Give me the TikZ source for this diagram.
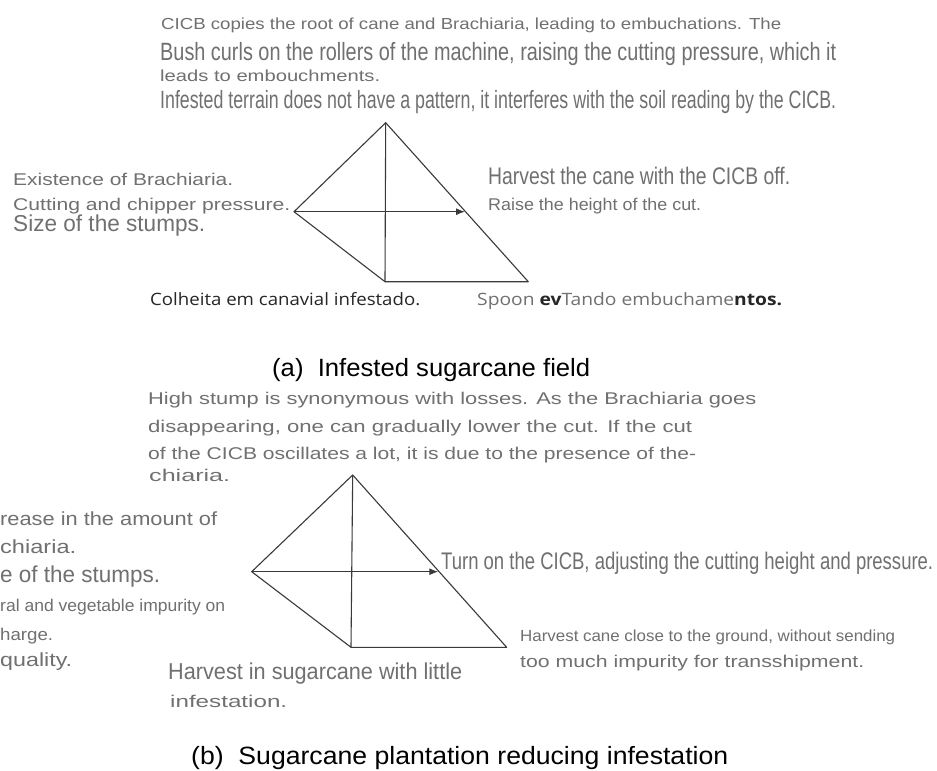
\documentclass[tikz,border=0pt]{standalone}
\usepackage{fontspec}
\usepackage{graphicx}
\setmainfont{Liberation Sans}
\newfontfamily\colfont{Open Sans}
\usetikzlibrary{arrows.meta}
\definecolor{txtgray}{HTML}{707070}
\definecolor{rimgray}{HTML}{3A3A3A}
\definecolor{darktxt}{HTML}{262626}
\newcommand{\fitw}[2]{\resizebox{#1pt}{\height}{#2}}
\tikzset{
  lbl/.style={anchor=base west, inner sep=0pt, text=txtgray},
  fsz/.style={font=\fontsize{#1}{#1}\selectfont},
  captxt/.style={anchor=base west, inner sep=0pt, text=black, font=\fontsize{25}{25}\selectfont},
  rim/.style={draw=rimgray, line width=1.1pt, line join=round},
}
\begin{document}
\begin{tikzpicture}[x=1pt,y=-1pt]
\useasboundingbox[fill=white] (0,0) rectangle (937,771);
\coordinate (atop) at (385.7,122.7);
\coordinate (aleft) at (294,211.7);
\coordinate (abl) at (385,281.7);
\coordinate (abr) at (528.3,281.7);
\coordinate (atip) at (465,211.7);
\draw[rim] (atop) -- (aleft) -- (abl) -- (abr) -- cycle;
\draw[rim] (atop) -- (abl);
\draw[rim,-{Latex[length=9pt,width=7pt]}] (aleft) -- (atip);
\node[lbl,fsz=16] (acopy) at (161,29) {\fitw{620}{CICB copies the root of cane and Brachiaria, leading to embuchations. The}};
\node[lbl,fsz=25] (abush) at (160,60) {\fitw{676}{Bush curls on the rollers of the machine, raising the cutting pressure, which it}};
\node[lbl,fsz=16] (aleads) at (160,81) {\fitw{220}{leads to embouchments.}};
\node[lbl,fsz=25] (aterrain) at (160,108) {\fitw{676}{Infested terrain does not have a pattern, it interferes with the soil reading by the CICB.}};
\node[lbl,fsz=17] (aexist) at (13,185) {\fitw{220}{Existence of Brachiaria.}};
\node[lbl,fsz=17] (acutting) at (13,210) {\fitw{277}{Cutting and chipper pressure.}};
\node[lbl,fsz=23] (asize) at (13,231) {\fitw{192}{Size of the stumps.}};
\node[lbl,fsz=24] (aoff) at (488,184) {\fitw{302}{Harvest the cane with the CICB off.}};
\node[lbl,fsz=17] (araise) at (488,210) {\fitw{213}{Raise the height of the cut.}};
\node[lbl,text=darktxt,font=\colfont\fontsize{17}{17}\selectfont] (acolheita) at (150,305) {\fitw{270}{Colheita em canavial infestado.}};
\node[lbl,font=\colfont\fontsize{17}{17}\selectfont] (aspoon) at (477,305) {\fitw{305}{Spoon \textcolor{darktxt}{\bfseries ev}Tando embuchame\textcolor{darktxt}{\bfseries ntos.}}};
\node[captxt] (capa) at (272,376) {\fitw{318}{(a)~ Infested sugarcane field}};
\coordinate (btop) at (352.7,475);
\coordinate (bleft) at (251.7,571.7);
\coordinate (bbl) at (351,647.3);
\coordinate (bbr) at (506.7,647.3);
\coordinate (btip) at (438.3,571.7);
\draw[rim] (btop) -- (bleft) -- (bbl) -- (bbr) -- cycle;
\draw[rim] (btop) -- (bbl);
\draw[rim,-{Latex[length=9pt,width=7pt]}] (bleft) -- (btip);
\node[lbl,fsz=17] (bstump) at (148,404) {\fitw{608}{High stump is synonymous with losses. As the Brachiaria goes}};
\node[lbl,fsz=17] (blower) at (148,432) {\fitw{544}{disappearing, one can gradually lower the cut. If the cut}};
\node[lbl,fsz=17] (boscil) at (148,459) {\fitw{548}{of the CICB oscillates a lot, it is due to the presence of the-}};
\node[lbl,fsz=17] (bchia) at (149,481) {\fitw{81}{chiaria.}};
\node[lbl,fsz=19] (brease) at (0,525) {\fitw{217}{rease in the amount of}};
\node[lbl,fsz=19] (bchib) at (0,553) {\fitw{76}{chiaria.}};
\node[lbl,fsz=23] (bsize) at (0,582) {\fitw{160}{e of the stumps.}};
\node[lbl,fsz=17] (bral) at (0,611) {\fitw{225}{ral and vegetable impurity on}};
\node[lbl,fsz=17] (bharge) at (0,640) {\fitw{53}{harge.}};
\node[lbl,fsz=19] (bqual) at (0,666) {\fitw{72}{quality.}};
\node[lbl,fsz=24] (bturn) at (441,569) {\fitw{492}{Turn on the CICB, adjusting the cutting height and pressure.}};
\node[lbl,fsz=16] (bclose) at (520,641) {\fitw{375}{Harvest cane close to the ground, without sending}};
\node[lbl,fsz=17] (bmuch) at (520,667) {\fitw{344}{too much impurity for transshipment.}};
\node[lbl,fsz=23] (blittle) at (168,679) {\fitw{294}{Harvest in sugarcane with little}};
\node[lbl,fsz=17] (binfest) at (170,707) {\fitw{117}{infestation.}};
\node[captxt] (capb) at (191,764) {\fitw{537}{(b)~ Sugarcane plantation reducing infestation}};
\end{tikzpicture}
\end{document}
